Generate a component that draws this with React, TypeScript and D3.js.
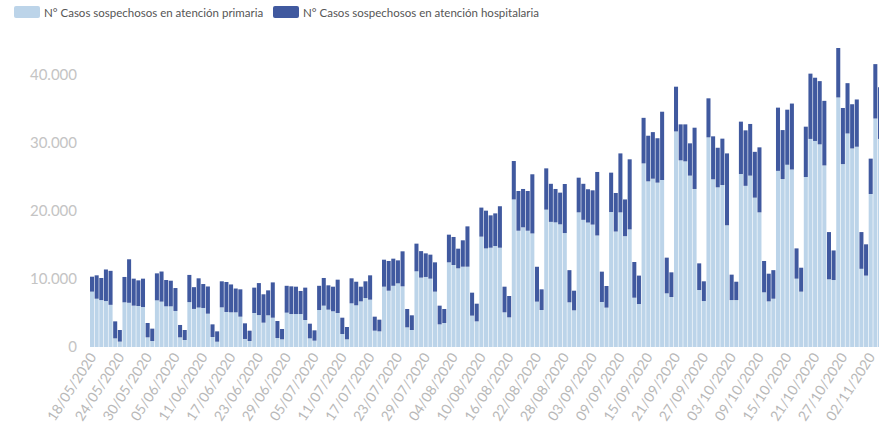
import React, { useEffect, useRef } from "react";
import * as d3 from "d3";

// daily values, 18/05/2020 onwards
const primaria = [
  8140, 7100, 6900, 6760, 6200, 1270, 790, 6570, 6500, 6080, 6030, 5880, 1420, 880,
  6860, 6670, 5980, 5980, 5300, 1420, 1030, 6600, 5600, 5800, 5740, 4900, 1470, 780,
  5830, 5150, 5100, 5100, 4460, 1180, 880, 5000, 4700, 3580, 4660, 4310, 1320, 1130,
  5050, 4850, 4850, 4850, 3970, 1270, 930, 5440, 6080, 5490, 5250, 5000, 1910, 1130,
  6420, 6130, 6710, 7200, 6960, 2400, 2300, 8870, 8280, 9000, 9360, 8920, 2890, 2500,
  11130, 10200, 10300, 10050, 8140, 3330, 3530, 12450, 12060, 11570, 11810, 11810, 4610, 3770,
  16230, 14500, 14600, 14850, 14600, 5100, 4360, 21700, 17100, 17600, 17100, 16700, 6670, 5440,
  20200, 18400, 18330, 18040, 16760, 6570, 5390, 19800, 18700, 18300, 18000, 16400, 6620, 5790,
  19850, 16980, 19800, 16300, 17300, 7250, 6320, 27000, 24360, 24750, 24170, 24560, 7890, 7350,
  31700, 27450, 27300, 25200, 23240, 8380, 6760, 30830, 24660, 23480, 23820, 17900, 6900, 6900,
  25440, 23700, 25200, 21960, 19800, 8040, 6710, 7100, 25900, 24700, 26800, 26100, 10050, 8140,
  25000, 30600, 30300, 29800, 26700, 9950, 9850, 36700, 26900, 31400, 29200, 29450, 11500, 10500,
  22500, 33600, 30600,
];

const hospitalaria = [
  2200, 3440, 3250, 4640, 5000, 2500, 1710, 3730, 6400, 3970, 3770, 4170, 2110, 1820,
  3970, 4430, 3870, 3770, 3370, 1820, 1470, 4000, 3200, 4300, 3520, 4000, 1860, 1520,
  3830, 4410, 4100, 3500, 4020, 2300, 1520, 3730, 4700, 4170, 3670, 5190, 2500, 1520,
  3950, 4070, 4020, 3390, 4760, 2160, 1520, 3560, 4070, 3580, 3620, 4900, 2400, 1810,
  3680, 3470, 2160, 2460, 3580, 2060, 1720, 3970, 4370, 3990, 3380, 5150, 2700, 2160,
  4070, 3900, 3470, 3530, 4310, 2750, 2060, 4070, 4120, 2890, 3880, 5930, 3380, 2600,
  4270, 5550, 4760, 4800, 6100, 3770, 3140, 5650, 5840, 5640, 5840, 8700, 5130, 3040,
  6070, 5600, 4910, 4660, 7210, 4730, 2890, 5100, 5300, 4900, 5040, 9340, 4460, 3180,
  5790, 5670, 8670, 5400, 10300, 5250, 4180, 6700, 6710, 6850, 6530, 10040, 5250, 3630,
  6580, 5290, 5440, 4750, 9010, 3920, 2900, 5740, 6320, 5820, 6820, 10570, 3740, 2700,
  7700, 8160, 7600, 6740, 9560, 4610, 4070, 4200, 9300, 7200, 8100, 9700, 4450, 3520,
  7400, 9600, 9300, 9300, 9500, 6950, 4350, 7270, 8250, 7400, 6500, 6950, 5400, 4600,
  5200, 8000, 7600,
];

const tickLabels = [
  "18/05/2020", "24/05/2020", "30/05/2020", "05/06/2020", "11/06/2020", "17/06/2020",
  "23/06/2020", "29/06/2020", "05/07/2020", "11/07/2020", "17/07/2020", "23/07/2020",
  "29/07/2020", "04/08/2020", "10/08/2020", "16/08/2020", "22/08/2020", "28/08/2020",
  "03/09/2020", "09/09/2020", "15/09/2020", "21/09/2020", "27/09/2020", "03/10/2020",
  "09/10/2020", "15/10/2020", "21/10/2020", "27/10/2020", "02/11/2020",
];

const yTicks = [0, 10000, 20000, 30000, 40000];

const seriesNames = [
  "N° Casos sospechosos en atención primaria",
  "N° Casos sospechosos en atención hospitalaria",
];
const colors = ["#bcd4e9", "#40599f"];

const width = 879;
const height = 427;

export default function App() {
  const svgRef = useRef(null);

  useEffect(() => {
    document.body.style.margin = "0";
    const fmt = d3.timeFormat("%d/%m/%Y");
    const start = new Date(2020, 4, 18);
    const dates = primaria.map((_, i) => fmt(d3.timeDay.offset(start, i)));

    const rows = dates.map((d, i) => ({
      date: d,
      primaria: primaria[i],
      hospitalaria: hospitalaria[i],
    }));

    const svg = d3.select(svgRef.current);
    svg.selectAll("*").remove();

    const step = 4.635;
    const x = d3
      .scaleBand<string>()
      .domain(dates)
      .range([90, 90 + step * (dates.length - 1) + step * 0.87])
      .paddingInner(0.13)
      .paddingOuter(0);
    const y = d3.scaleLinear().domain([0, 40000]).range([347, 75]);

    const stack = d3.stack<any>().keys(["primaria", "hospitalaria"]);
    const layers = stack(rows);

    svg
      .selectAll("g.layer")
      .data(layers)
      .enter()
      .append("g")
      .attr("class", "layer")
      .attr("fill", (d, i) => colors[i])
      .selectAll("rect")
      .data((d) => d)
      .enter()
      .append("rect")
      .attr("x", (d: any) => x(d.data.date) as number)
      .attr("width", x.bandwidth())
      .attr("y", (d) => y(d[1]))
      .attr("height", (d) => y(d[0]) - y(d[1]));

    // y axis labels
    svg
      .append("g")
      .selectAll("text")
      .data(yTicks)
      .enter()
      .append("text")
      .attr("x", 77)
      .attr("y", (d) => y(d))
      .attr("dy", "0.35em")
      .attr("text-anchor", "end")
      .attr("fill", "#c4c4c4")
      .style("font-family", "Lato, sans-serif")
      .style("font-size", "15px")
      .text((d) => d3.format(",")(d).replace(/,/g, "."));

    // x axis labels
    svg
      .append("g")
      .selectAll("text")
      .data(tickLabels)
      .enter()
      .append("text")
      .attr("transform", (d) => {
        const cx = (x(d) as number) + x.bandwidth() / 2 + 5;
        return `translate(${cx},357) rotate(-57)`;
      })
      .attr("text-anchor", "end")
      .attr("fill", "#b8b8b8")
      .style("font-family", "Lato, sans-serif")
      .style("font-size", "14px")
      .text((d) => d);

    // legend
    const legend = svg.append("g");
    const legendX = [14, 273];
    seriesNames.forEach((name, i) => {
      legend
        .append("rect")
        .attr("x", legendX[i])
        .attr("y", 6)
        .attr("width", 26)
        .attr("height", 12)
        .attr("rx", 2)
        .attr("fill", colors[i]);
      legend
        .append("text")
        .attr("x", legendX[i] + 30)
        .attr("y", 16.5)
        .attr("fill", "#555")
        .style("font-family", "Lato, sans-serif")
        .style("font-size", "11.5px")
        .text(name);
    });
  }, []);

  return (
    <svg
      ref={svgRef}
      width={width}
      height={height}
      style={{ position: "absolute", left: 0, top: 0, background: "#fff" }}
    />
  );
}
